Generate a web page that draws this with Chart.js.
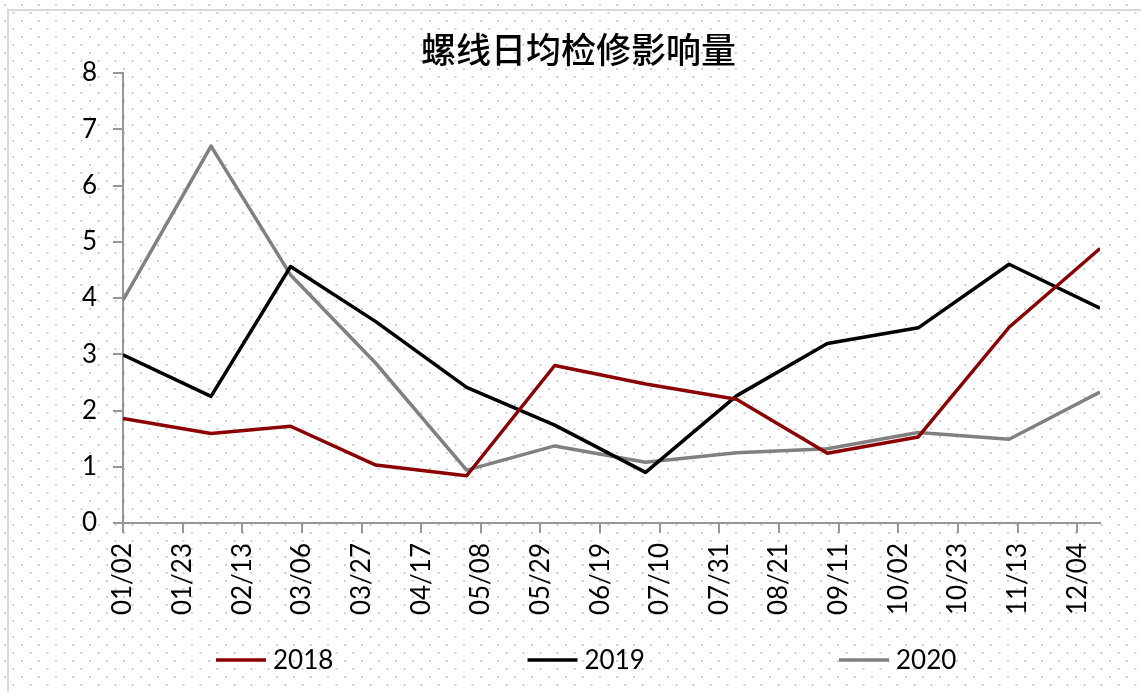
<!DOCTYPE html>
<html>
<head>
    <meta charset="UTF-8">
    <title>螺线日均检修影响量</title>
    <script src="https://cdn.jsdelivr.net/npm/chart.js@4.4.0/dist/chart.umd.min.js"></script>
    <style>
        body { margin: 0; }
        #wrap {
            position: relative;
            width: 1141px;
            height: 692px;
            overflow: hidden;
            background-color: #ffffff;
            background-image: url("data:image/svg+xml,%3Csvg xmlns='http://www.w3.org/2000/svg' width='17' height='16'%3E%3Crect x='4' y='4' width='2' height='2' fill='%23d0d0d0'/%3E%3Crect x='12.5' y='12' width='2' height='2' fill='%23d0d0d0'/%3E%3C/svg%3E");
        }
        #frame {
            position: absolute;
            left: 7px;
            top: 9px;
            width: 1200px;
            height: 760px;
            border: 2px solid #d9d9d9;
        }
        #chart { position: absolute; left: 0; top: 0; }
    </style>
</head>
<body>
<div id="wrap">
    <div id="frame"></div>
    <canvas id="chart" width="1141" height="692"></canvas>
</div>
<script type="text/javascript">
    // x ticks every 21 days from 01/02
    var tickLabels = ['01/02', '01/23', '02/13', '03/06', '03/27', '04/17', '05/08', '05/29', '06/19',
        '07/10', '07/31', '08/21', '09/11', '10/02', '10/23', '11/13', '12/04'];
    var tickStep = 21;

    // sample dates (one per month)
    var pointDates = ['01/02', '02/02', '03/02', '04/01', '05/03', '06/03', '07/05', '08/06',
        '09/07', '10/09', '11/10', '12/12'];

    var years = ['2018', '2019', '2020'];
    var values2018 = [1.86, 1.59, 1.72, 1.03, 0.84, 2.80, 2.47, 2.20, 1.24, 1.53, 3.48, 4.88];
    var values2019 = [2.99, 2.25, 4.56, 3.58, 2.41, 1.74, 0.90, 2.26, 3.19, 3.47, 4.60, 3.82];
    var values2020 = [3.96, 6.70, 4.41, 2.84, 0.94, 1.37, 1.08, 1.25, 1.32, 1.61, 1.49, 2.33];

    var colors = ['#8b0000', '#000000', '#808080'];

    // days elapsed since 01/02 (non leap year)
    function dayOffset(md) {
        var p = md.split('/');
        var d = new Date(Date.UTC(2019, +p[0] - 1, +p[1]));
        var start = new Date(Date.UTC(2019, 0, 2));
        return Math.round((d - start) / 86400000);
    }

    function toPoints(vals) {
        return vals.map(function (v, i) {
            return {x: dayOffset(pointDates[i]), y: v};
        });
    }

    var series = [values2018, values2019, values2020];
    var datasets = series.map(function (vals, i) {
        return {
            label: years[i],
            data: toPoints(vals),
            borderColor: colors[i],
            backgroundColor: colors[i],
            borderWidth: 3.5,
            pointRadius: 0,
            tension: 0,
            fill: false,
            borderJoinStyle: 'round'
        };
    });

    /* legend drawn in one row along the bottom, items spread wide */
    var wideLegend = {
        id: 'wideLegend',
        afterDraw: function (chart) {
            var ctx = chart.ctx;
            var y = chart.height - 32;
            var left = 216, gap = 311.5;
            ctx.save();
            ctx.font = '26px Lato';
            ctx.textBaseline = 'middle';
            ctx.fillStyle = '#000';
            chart.data.datasets.forEach(function (ds, i) {
                var x = left + i * gap;
                ctx.strokeStyle = ds.borderColor;
                ctx.lineWidth = 3.5;
                ctx.beginPath();
                ctx.moveTo(x, y);
                ctx.lineTo(x + 50, y);
                ctx.stroke();
                ctx.fillText(ds.label, x + 57, y + 1);
            });
            ctx.restore();
        }
    };

    var axisColor = '#979797';

    var config = {
        type: 'line',
        data: {datasets: datasets},
        options: {
            responsive: false,
            animation: false,
            layout: {padding: {left: 57, right: 41, top: 0, bottom: 60}},
            plugins: {
                legend: {display: false},
                tooltip: {enabled: false},
                title: {
                    display: true,
                    text: '螺线日均检修影响量',
                    color: '#000',
                    font: {family: '"Noto Sans CJK SC"', size: 35, weight: '500'},
                    padding: {top: 29, bottom: 2}
                }
            },
            scales: {
                x: {
                    type: 'linear',
                    min: 0,
                    max: dayOffset(pointDates[pointDates.length - 1]),
                    afterBuildTicks: function (scale) {
                        scale.ticks = tickLabels.map(function (t, i) {
                            return {value: i * tickStep};
                        });
                    },
                    afterFit: function (scale) {
                        scale.height = 109;
                    },
                    ticks: {
                        autoSkip: false,
                        minRotation: 90,
                        maxRotation: 90,
                        padding: 10,
                        color: '#000',
                        font: {family: 'Lato', size: 26},
                        callback: function (value) {
                            return tickLabels[Math.round(value / tickStep)];
                        }
                    },
                    grid: {drawOnChartArea: false, tickLength: 10, color: axisColor, lineWidth: 2},
                    border: {color: axisColor, width: 2}
                },
                y: {
                    min: 0,
                    max: 8,
                    afterFit: function (scale) {
                        scale.width = 66;
                    },
                    ticks: {
                        stepSize: 1,
                        padding: 16,
                        color: '#000',
                        font: {family: 'Lato', size: 26}
                    },
                    grid: {drawOnChartArea: false, tickLength: 10, color: axisColor, lineWidth: 2},
                    border: {color: axisColor, width: 2}
                }
            }
        },
        plugins: [wideLegend]
    };

    window.onload = function () {
        var ctx = document.getElementById('chart');
        window.myLine = new Chart(ctx, config);
    };
</script>
</body>
</html>
